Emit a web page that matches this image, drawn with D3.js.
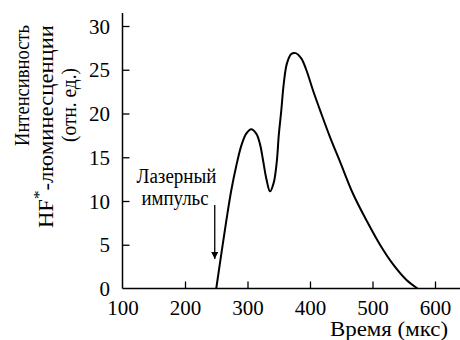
<!DOCTYPE html>
<html><head><meta charset="utf-8">
<script src="https://cdn.jsdelivr.net/npm/d3@7"></script>
<style>
html,body{margin:0;padding:0;background:#fff;}
</style></head>
<body>
<svg id="chart" width="460" height="340" font-family="Liberation Serif"></svg>
<script>
const time = [250,258,266,274,282,290,298,306,314,320,325,330,336,342,347,350,354,358,363,370,377,386,394,405,418,432,448,469,491,512,533,554,572];
const intensity = [0,3.9,7.7,11.2,14.0,16.3,17.7,18.2,17.7,16.5,14.6,12.6,11.1,12.1,14.6,17.5,20.3,23.4,25.7,26.8,26.9,26.3,25.0,22.6,20.0,17.3,14.5,10.8,7.7,5.0,2.75,1.0,0];
const xTicks = [100,200,300,400,500,600];
const yTicks = [0,5,10,15,20,25,30];
const xLabel = "Время (мкс)";
const yLabelLines = ["Интенсивность", "HF", "(отн. ед.)"];
const pulseText = ["Лазерный", "импульс"];
const pulseTime = 250;
const FONT = '"Liberation Serif"';

const svg = d3.select("#chart");
const x = d3.scaleLinear().domain([100, 640]).range([122.5, 460]);
const y = d3.scaleLinear().domain([0, 30]).range([288.5, 26]);

// axes
const xAxis = d3.axisBottom(x).tickValues(xTicks).tickSizeInner(-7).tickSizeOuter(0);
const gx = svg.append("g").attr("transform", `translate(0,${y(0)})`).call(xAxis);
gx.attr("font-family", null).attr("font-size", null);
gx.select(".domain").attr("stroke", "#000").attr("stroke-width", 1.5).attr("d", `M${x(100)},0H460`);
gx.selectAll(".tick line").attr("stroke", "#000").attr("stroke-width", 1.3);
gx.selectAll(".tick").filter(d => d === 100).select("line").remove();
gx.selectAll(".tick text").style("font-size", "21px").style("font-family", FONT).attr("fill", "#000")
  .attr("y", 26.5).attr("dy", null);

const yAxis = d3.axisLeft(y).tickValues(yTicks).tickSizeInner(-7).tickSizeOuter(0);
const gy = svg.append("g").attr("transform", `translate(${x(100)},0)`).call(yAxis);
gy.attr("font-family", null).attr("font-size", null);
gy.select(".domain").attr("stroke", "#000").attr("stroke-width", 1.5).attr("d", `M0,13V${y(0)}`);
gy.selectAll(".tick line").attr("stroke", "#000").attr("stroke-width", 1.3);
gy.selectAll(".tick").filter(d => d === 0).select("line").remove();
gy.selectAll(".tick text").style("font-size", "21px").style("font-family", FONT).attr("fill", "#000")
  .attr("x", -12.5).attr("dy", "0.34em");

// curve
const pts = time.map((t, i) => [t, intensity[i]]);
const line = d3.line().x(d => x(d[0])).y(d => y(d[1])).curve(d3.curveCatmullRom.alpha(0.5));
svg.append("path").datum(pts).attr("d", line).attr("fill", "none").attr("stroke", "#000").attr("stroke-width", 2);

// arrow
svg.append("defs").append("marker").attr("id", "ah").attr("viewBox", "0 0 10 10")
  .attr("refX", 10).attr("refY", 5).attr("markerWidth", 10).attr("markerHeight", 7)
  .attr("markerUnits", "userSpaceOnUse").attr("orient", "auto")
  .append("path").attr("d", "M0,0L10,5L0,10Z").attr("fill", "#000");
svg.append("line").attr("x1", x(pulseTime) - 1.5).attr("x2", x(pulseTime) - 1.5)
  .attr("y1", 205).attr("y2", 259).attr("stroke", "#000").attr("stroke-width", 1.3)
  .attr("marker-end", "url(#ah)");

// text helper: centred at (cx, by) baseline, rotated, fitted to a target length
function label(cx, by, rot, size, target, build) {
  const t = svg.append("text").style("font-family", FONT).style("font-size", size + "px")
    .attr("fill", "#000").attr("text-anchor", "middle")
    .attr("textLength", target).attr("lengthAdjust", "spacingAndGlyphs")
    .attr("transform", `translate(${cx},${by}) rotate(${rot})`);
  build(t);
  return t;
}

label(176.5, 183, 0, 20, 80, t => t.text(pulseText[0]));
label(175, 205, 0, 20, 67, t => t.text(pulseText[1]));
label(389, 336, 0, 21, 118, t => t.text(xLabel));

label(29, 85.5, -90, 20, 121, t => t.text(yLabelLines[0]));
label(53, 126.5, -90, 20, 203, t => {
  t.append("tspan").text(yLabelLines[1]);
  t.append("tspan").attr("dy", -9).style("font-size", "15px").text("*");
  t.append("tspan").attr("dy", 9).text("-люминесценции");
});
label(76, 105, -90, 20, 74, t => t.text(yLabelLines[2]));
</script>
</body></html>
